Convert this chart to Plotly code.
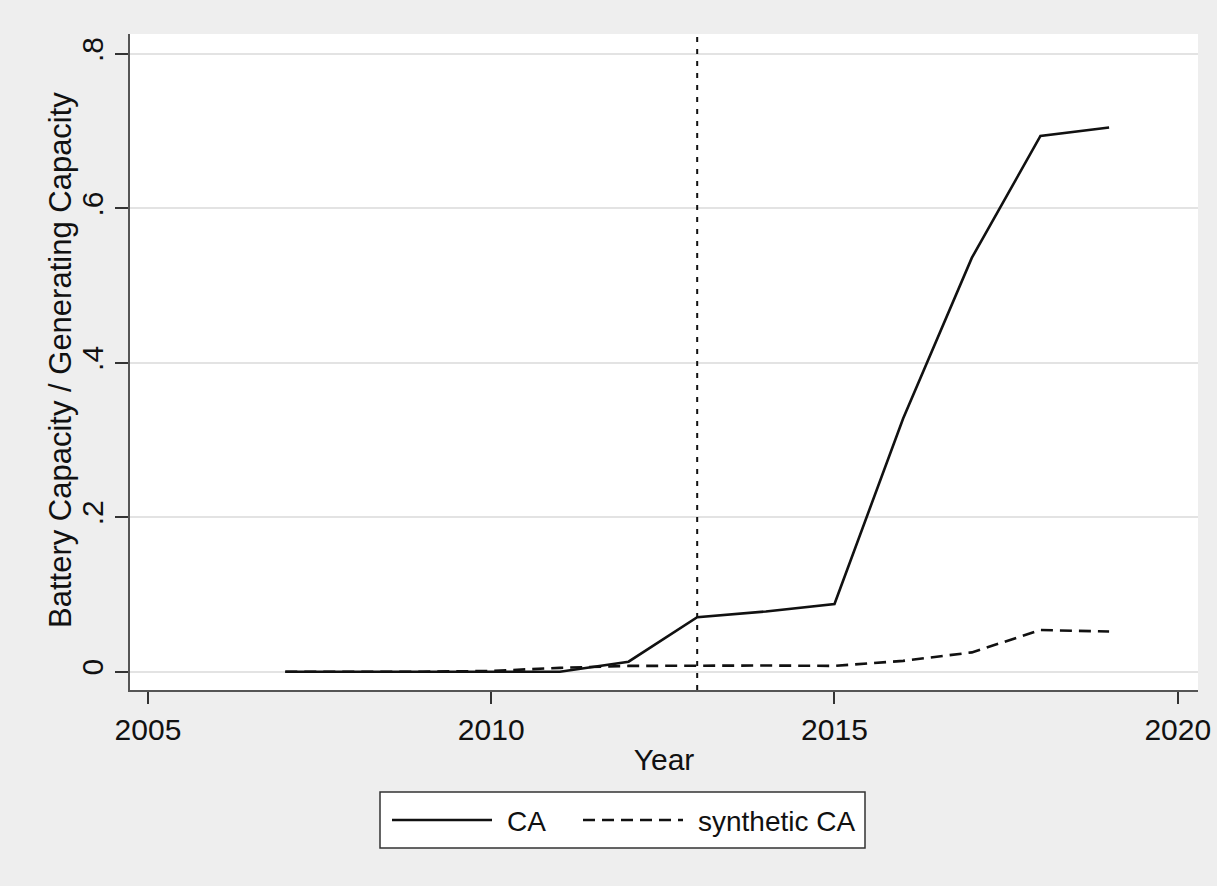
import plotly.graph_objects as go

# Battery capacity relative to generating capacity, California vs. synthetic control
years = [2007, 2008, 2009, 2010, 2011, 2012, 2013, 2014, 2015, 2016, 2017, 2018, 2019]
ca = [0.0, 0.0, 0.0, 0.0, 0.0, 0.013, 0.0705, 0.078, 0.0877, 0.328, 0.536, 0.694, 0.705]
synthetic_ca = [0.0, 0.0, 0.0, 0.001, 0.005, 0.0075, 0.008, 0.008, 0.0075, 0.014, 0.025, 0.054, 0.052]
treatment_year = 2013

x_ticks = [2005, 2010, 2015, 2020]
y_ticks = [0, 0.2, 0.4, 0.6, 0.8]
y_tick_labels = ["0", ".2", ".4", ".6", ".8"]
legend_labels = ["CA", "synthetic CA"]
y_title = "Battery Capacity / Generating Capacity"

FONT = "Liberation Sans, Arial, sans-serif"
W, H = 1217, 886
ML, MR, MT, MB = 130, 19, 34, 196
PW, PH = W - ML - MR, H - MT - MB


def px_x(p):
    return (p - ML) / PW


def px_y(p):
    return 1 - (p - MT) / PH


fig = go.Figure()
fig.add_trace(go.Scatter(x=years, y=ca, mode="lines", name=legend_labels[0],
                         line=dict(color="#111111", width=2.6), showlegend=False))
fig.add_trace(go.Scatter(x=years, y=synthetic_ca, mode="lines", name=legend_labels[1],
                         line=dict(color="#111111", width=2.6, dash="12px,7px"),
                         showlegend=False))

# treatment marker
fig.add_shape(type="line", xref="x", yref="paper", x0=treatment_year, x1=treatment_year,
              y0=0, y1=1, line=dict(color="#111111", width=2, dash="5px,7px"))

# y-axis title, rotated
fig.add_annotation(xref="paper", yref="paper", x=px_x(60), y=px_y(360), text=y_title,
                   textangle=-90, showarrow=False, xanchor="center", yanchor="middle",
                   font=dict(family=FONT, size=31, color="#111111"))

# legend box drawn below the axis title
bx0, bx1, by0, by1 = 380, 865, 792, 848
fig.add_shape(type="rect", xref="paper", yref="paper",
              x0=px_x(bx0), x1=px_x(bx1), y0=px_y(by1), y1=px_y(by0),
              line=dict(color="#333333", width=1.5), fillcolor="white")
ly = 820
fig.add_shape(type="line", xref="paper", yref="paper",
              x0=px_x(392), x1=px_x(492), y0=px_y(ly), y1=px_y(ly),
              line=dict(color="#111111", width=2.6))
fig.add_shape(type="line", xref="paper", yref="paper",
              x0=px_x(583), x1=px_x(683), y0=px_y(ly), y1=px_y(ly),
              line=dict(color="#111111", width=2.6, dash="12px,7px"))
fig.add_annotation(xref="paper", yref="paper", x=px_x(505), y=px_y(ly + 1), text=legend_labels[0],
                   showarrow=False, xanchor="left", yanchor="middle",
                   font=dict(family=FONT, size=28, color="#111111"))
fig.add_annotation(xref="paper", yref="paper", x=px_x(696), y=px_y(ly + 1), text=legend_labels[1],
                   showarrow=False, xanchor="left", yanchor="middle",
                   font=dict(family=FONT, size=28, color="#111111"))

fig.update_layout(
    width=W, height=H,
    margin=dict(l=ML, r=MR, t=MT, b=MB),
    paper_bgcolor="#eeeeee",
    plot_bgcolor="white",
    font=dict(family=FONT, size=30, color="#111111"),
    showlegend=False,
    xaxis=dict(
        range=[2004.738, 2020.295],
        automargin=False,
        tickmode="array", tickvals=x_ticks, ticktext=[str(t) for t in x_ticks],
        ticks="outside", ticklen=12, tickwidth=2, tickcolor="#333333",
        showline=True, linecolor="#555555", linewidth=2,
        showgrid=False, zeroline=False,
        title=dict(text="Year", standoff=4, font=dict(size=30)),
        tickfont=dict(size=30),
    ),
    yaxis=dict(
        range=[-0.0237, 0.826],
        automargin=False,
        tickmode="array", tickvals=y_ticks, ticktext=y_tick_labels,
        tickangle=-90,
        ticks="outside", ticklen=13, tickwidth=2, tickcolor="#333333",
        showline=True, linecolor="#555555", linewidth=2,
        showgrid=True, gridcolor="#e3e3e3", gridwidth=1.5,
        zeroline=False,
        tickfont=dict(size=30),
    ),
)

fig.write_html("out.html")
